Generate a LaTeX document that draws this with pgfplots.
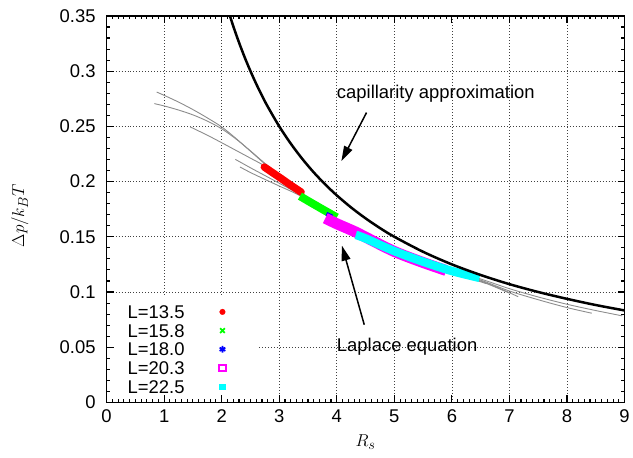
\documentclass[border=0pt]{standalone}
\usepackage[no-math]{fontspec}
\setmainfont{Liberation Sans}
\usepackage{pgfplots}
\pgfplotsset{compat=1.18}
\usetikzlibrary{arrows.meta}
\definecolor{lapgray}{RGB}{140,140,140}
\definecolor{cRed}{RGB}{255,0,0}
\definecolor{cGreen}{RGB}{0,255,0}
\definecolor{cBlue}{RGB}{0,0,255}
\definecolor{cMag}{RGB}{255,0,255}
\definecolor{cCyan}{RGB}{0,255,255}
\newcommand{\bigfont}{\fontsize{18.5}{22}\selectfont}
\pgfplotsset{
  layers/mylayers/.define layer set={axis background,axis grid,pre main,axis ticks,axis lines,axis tick labels,main,axis descriptions,axis foreground}{
    grid style={/pgfplots/on layer=axis grid},
    tick style={/pgfplots/on layer=axis ticks},
    axis line style={/pgfplots/on layer=axis lines},
    label style={/pgfplots/on layer=axis descriptions},
    legend style={/pgfplots/on layer=pre main},
    title style={/pgfplots/on layer=axis descriptions},
    colorbar style={/pgfplots/on layer=axis descriptions},
    ticklabel style={/pgfplots/on layer=axis tick labels},
    axis background@ style={/pgfplots/on layer=axis background},
    3d box foreground style={/pgfplots/on layer=axis foreground},
  },
  markimg/.style 2 args={legend image code/.code={%
    \path (0cm,0cm) (0.6cm,0cm);
    \draw[#1] plot[only marks, #2] coordinates {(0.3cm,0cm)};}},
}
\begin{document}
\begin{tikzpicture}
\begin{axis}[
  set layers=mylayers,
  at={(0,0)}, anchor=south west,
  scale only axis, width=520pt, height=388pt,
  xmin=0, xmax=9, ymin=0, ymax=0.35,
  xtick={0,1,2,3,4,5,6,7,8,9},
  xticklabels={0,1,2,3,4,5,6,7,8,9},
  ytick={0,0.05,0.1,0.15,0.2,0.25,0.3,0.35},
  yticklabels={0,0.05,0.1,0.15,0.2,0.25,0.3,0.35},
  scaled y ticks=false,
  minor x tick num=9, minor y tick num=4,
  tick align=inside,
  major tick length=7pt, minor tick length=3.5pt,
  tick style={black, line width=1.1pt},
  grid=major,
  grid style={black!75, line width=0.7pt, dash pattern=on 0.9pt off 2.1pt},
  axis line style={line width=1.5pt},
  tick label style={font=\bigfont},
  /pgf/number format/assume math mode=true,
  xticklabel style={yshift=-4pt},
  yticklabel style={xshift=-7.5pt},
  xlabel={$R_s$}, ylabel={$\Delta p/k_BT$},
  xlabel style={at={(axis description cs:0.5,-0.103)}, anchor=center, font=\fontsize{19}{23}\selectfont},
  ylabel style={at={(axis description cs:-0.1673,0.483)}, anchor=center, font=\fontsize{19}{23}\selectfont},
  legend style={at={(0,0)}, anchor=south west, draw=none, fill=white,
    inner xsep=21pt, inner ysep=6.3pt, font=\bigfont,
    nodes={inner sep=0pt, text height=16pt, text depth=2.75pt},
    /tikz/column sep=24pt},
  legend plot pos=right,
  legend cell align=left,
]
% Laplace equation curves
\addplot[lapgray, line width=0.9pt, smooth, forget plot] coordinates {
(0.87,0.2811) (1.0,0.2781) (1.25,0.2720) (1.5,0.2652) (1.75,0.2577) (2.0,0.2495)
(2.25,0.2390) (2.5,0.2275) (2.75,0.2160) (3.0,0.2055) (3.35,0.1900) (3.7,0.1770)
(4.0,0.1665) (4.5,0.1505) (5.0,0.1380) (5.5,0.1280) (6.0,0.1195) (6.5,0.1118)
(7.0,0.1030) (7.5,0.0955) (8.0,0.0889) (8.5,0.0832) (8.96,0.0784)};
\addplot[lapgray, line width=0.9pt, smooth, forget plot] coordinates {
(0.83,0.2706) (1.0,0.2685) (1.25,0.2648) (1.5,0.2604) (1.75,0.2548) (2.0,0.2478)
(2.25,0.2385) (2.5,0.2278) (2.75,0.2165) (3.0,0.2052) (3.35,0.1897) (3.7,0.1767)
(4.0,0.1662) (4.5,0.1502) (5.0,0.1377) (5.5,0.1276) (6.0,0.1190) (6.5,0.1108)
(7.0,0.1009) (7.5,0.0930) (8.0,0.0859) (8.43,0.0808)};
\addplot[lapgray, line width=0.9pt, smooth, forget plot] coordinates {
(1.45,0.2496) (1.75,0.2420) (2.0,0.2352) (2.25,0.2282) (2.5,0.2212) (2.75,0.2140)
(3.0,0.2040) (3.35,0.1893) (3.7,0.1763) (4.0,0.1658) (4.5,0.1498) (5.0,0.1373)
(5.5,0.1272) (6.0,0.1186) (6.5,0.1100) (6.8,0.1040) (7.15,0.0958)};
\addplot[lapgray, line width=0.9pt, smooth, forget plot] coordinates {
(2.237,0.2201) (2.5,0.2125) (2.75,0.2055) (3.0,0.1985) (3.35,0.1885) (3.7,0.1760)
(4.0,0.1655) (4.5,0.1495) (5.0,0.1370) (5.5,0.1268) (6.0,0.1182) (6.5,0.1098) (7.0,0.0990)};
\addplot[lapgray, line width=0.9pt, smooth, forget plot] coordinates {
(2.318,0.2132) (2.5,0.2082) (2.75,0.2020) (3.0,0.1960) (3.35,0.1875) (3.7,0.1757)
(4.0,0.1652) (4.5,0.1492) (5.0,0.1367) (5.5,0.1265) (6.0,0.1178) (6.6,0.1075)};
% simulation data
\addplot[cRed, line width=7.5pt, line cap=round, smooth,
  markimg={cRed, line width=0.4pt}{mark=*, mark size=2.8pt}] coordinates {
(2.74,0.2132) (2.90,0.2075) (3.05,0.2022) (3.20,0.1967) (3.38,0.1905)};
\addlegendentry{L=13.5}
\addplot[cGreen, line width=8pt, smooth,
  markimg={cGreen, line width=1.8pt}{mark=x, mark size=3.3pt}] coordinates {
(3.36,0.1868) (3.55,0.1810) (3.75,0.1750) (4.00,0.1676)};
\addlegendentry{L=15.8}
\addplot[cBlue, line width=4pt,
  markimg={cBlue, line width=1.8pt}{mark=asterisk, mark size=3.3pt}] coordinates {
(3.82,0.1708) (3.92,0.1684)};
\addlegendentry{L=18.0}
\addplot[cMag, line width=11pt, smooth,
  markimg={cMag, line width=2pt}{mark=square, mark size=3.3pt}] coordinates {
(3.80,0.1668) (4.00,0.1618) (4.32,0.1545) (4.50,0.1497) (5.00,0.1367) (5.50,0.1267) (5.90,0.1195)};
\addlegendentry{L=20.3}
\addplot[cCyan, line width=8.5pt, smooth,
  markimg={cCyan, line width=0.4pt}{mark=square*, mark size=2.8pt}] coordinates {
(4.33,0.1517) (4.50,0.1485) (5.00,0.1370) (5.50,0.1274) (6.00,0.1190) (6.48,0.1128)};
\addlegendentry{L=22.5}
% capillarity approximation
\addplot[black, line width=2.5pt, smooth, forget plot] coordinates {
(2.10,0.3571) (2.20,0.3409) (2.30,0.3261) (2.40,0.3125) (2.50,0.3000) (2.60,0.2885)
(2.70,0.2778) (2.80,0.2679) (3.00,0.2500) (3.20,0.2344) (3.40,0.2206) (3.60,0.2083)
(3.80,0.1974) (4.00,0.1875) (4.25,0.1765) (4.50,0.1667) (4.75,0.1579) (5.00,0.1500)
(5.50,0.1364) (6.00,0.1250) (6.50,0.1154) (7.00,0.1071) (7.50,0.1000) (8.00,0.0938)
(8.50,0.0882) (9.00,0.0833) (9.10,0.0824)};
\node[anchor=west, inner sep=0pt, font=\bigfont] at (axis cs:4.0,0.28) {capillarity approximation};
\node[anchor=west, inner sep=0pt, font=\bigfont] at (axis cs:4.0,0.05) {Laplace equation};
\draw[line width=1.5pt, -{Triangle[length=15pt,width=9pt]}] (axis cs:4.517,0.2625) -- (axis cs:4.08,0.2186);
\draw[line width=1.5pt, -{Triangle[length=15pt,width=9pt]}] (axis cs:4.477,0.0704) -- (axis cs:4.09,0.1419);
\end{axis}
\path (-107pt,-55pt) rectangle (526pt,404pt);
\end{tikzpicture}
\end{document}
